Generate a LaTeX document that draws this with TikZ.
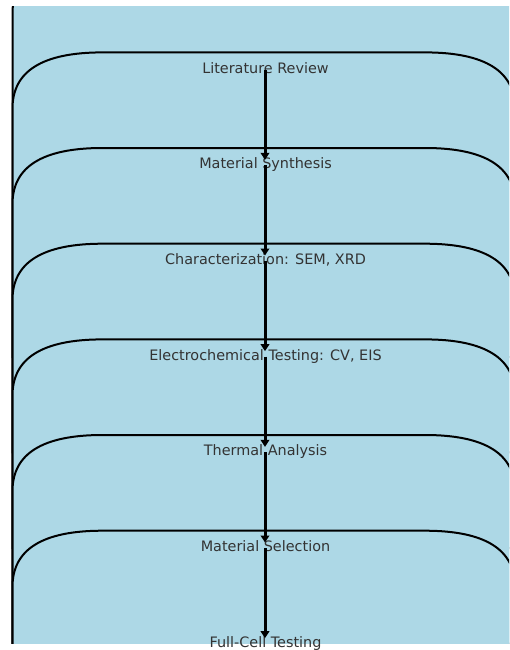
\documentclass[tikz,border=0pt]{standalone}
\usepackage{fontspec}
\setmainfont{DejaVu Sans}
\usetikzlibrary{arrows.meta}
\definecolor{boxblue}{RGB}{173,216,230}
\definecolor{txtgray}{RGB}{51,51,51}
\tikzset{
  boxst/.style={fill=boxblue, draw=black, line width=2pt},
  label/.style={text=txtgray, font=\fontsize{14.4}{16}\selectfont, inner sep=0pt,
                text height=14pt, text depth=3pt, anchor=center},
  arr/.style={draw=black, line width=3pt, -{Triangle[length=7pt,width=8.5pt]}, shorten >=0pt}
}
\begin{document}
\begin{tikzpicture}[x=1pt,y=-1pt]
\useasboundingbox (0,0) rectangle (509,650);
\begin{scope}
  \clip (10,7) rectangle (509,643);
  \foreach \t in {-43,52.4,148,243.7,339.4,435,530.7}{
    \filldraw[boxst] (12.5,\t+400) -- (12.5,\t+56)
      .. controls (12.5,\t+18.7) and (42.5,\t) .. (102.5,\t)
      -- (425,\t)
      .. controls (485,\t) and (515,\t+18.7) .. (515,\t+56)
      -- (515,\t+400) -- cycle;
  }
\end{scope}
\node[label] (t0) at (265.5,68)    {Literature Review};
\node[label] (t1) at (265.5,163.4) {Material Synthesis};
\node[label] (t2) at (265.5,259)   {Characterization: SEM, XRD};
\node[label] (t3) at (265.5,354.7) {Electrochemical Testing: CV, EIS};
\node[label] (t4) at (265.5,450.4) {Thermal Analysis};
\node[label] (t5) at (265.5,546)   {Material Selection};
\node[label] (t6) at (265.5,641.7) {Full-Cell Testing};
\foreach \a/\b in {t0/t1,t1/t2,t2/t3,t3/t4,t4/t5,t5/t6}{
  \draw[arr] ([xshift=-0.5pt,yshift=-2pt]\a.center) -- ([xshift=-0.5pt,yshift=3.5pt]\b.center);
}
\end{tikzpicture}
\end{document}
